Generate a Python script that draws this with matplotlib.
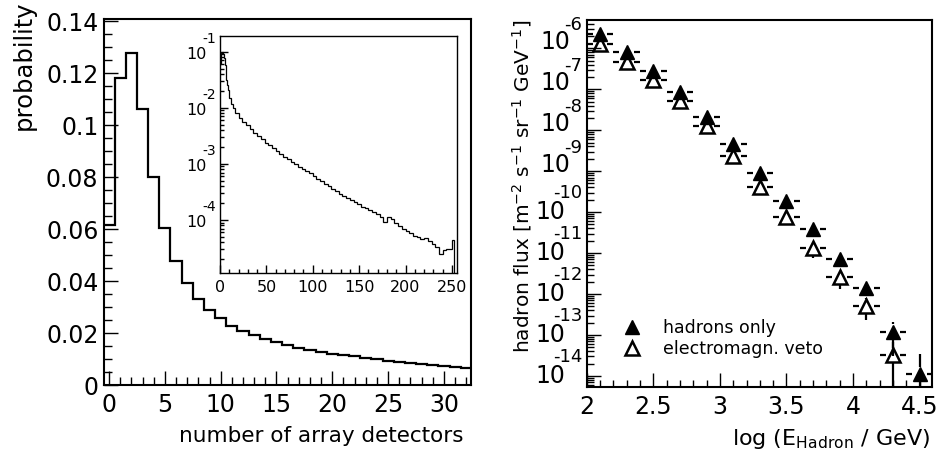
import numpy as np
import matplotlib
matplotlib.use("Agg")
import matplotlib.pyplot as plt
import matplotlib.transforms as mtransforms
from matplotlib.ticker import MultipleLocator, LogLocator, NullFormatter, FuncFormatter

plt.rcParams['font.family'] = ['DejaVu Sans']
plt.rcParams['mathtext.default'] = 'regular'

# left: probability vs number of array detectors (bins centred on integers)
n_det = np.arange(0, 33)
prob = [0.0615, 0.118, 0.1277, 0.106, 0.080, 0.0605, 0.0476, 0.0394, 0.0332,
        0.029, 0.0258, 0.0228, 0.0209, 0.0191, 0.0177, 0.0164, 0.0152, 0.0143,
        0.0135, 0.0128, 0.0121, 0.0115, 0.0110, 0.0105, 0.0099, 0.0094, 0.0090,
        0.0085, 0.0081, 0.0077, 0.0074, 0.0071, 0.0067]

# inset: full range, log10 of probability
inset_edges = np.r_[np.arange(0, 10), np.arange(10, 16, 2), np.arange(16, 248, 4),
                    [248, 250, 252, 256]]
inset_log10p = [-1.22, -1.02, -1.00, -1.05, -1.12, -1.24, -1.38, -1.50, -1.60, -1.68,
                -1.82, -1.93, -2.01,
                -2.10, -2.18, -2.25, -2.31, -2.38, -2.45, -2.51, -2.56, -2.62, -2.67,
                -2.72, -2.77, -2.83, -2.88, -2.92, -2.97, -3.01, -3.05, -3.09, -3.12,
                -3.17, -3.22, -3.27, -3.31, -3.36, -3.40, -3.45, -3.48, -3.53, -3.57,
                -3.60, -3.65, -3.68, -3.72, -3.76, -3.79, -3.83, -3.86, -3.90, -3.95,
                -4.03, -3.95, -3.99, -4.06, -4.10, -4.16, -4.20, -4.24, -4.29, -4.30,
                -4.34, -4.33, -4.38, -4.42, -4.48, -4.60, -4.53, -4.51,
                -4.52, -4.36, -np.inf]

# right: hadron flux
log_e_had = [2.1, 2.3, 2.5, 2.7, 2.9, 3.1, 3.3, 3.5, 3.7, 3.9, 4.1, 4.3, 4.5]
flux_had = [2.2e-6, 7.9e-7, 2.8e-7, 8.7e-8, 2.1e-8, 4.6e-9, 9.1e-10, 1.9e-10,
            3.8e-11, 7.1e-12, 1.4e-12, 1.2e-13, 1.1e-14]
err_had = [1e-7, 4e-8, 1.5e-8, 5e-9, 1.5e-9, 4e-10, 9e-11, 2.5e-11, 6e-12,
           1.4e-12, 3.5e-13, 0.9e-13, 2.4e-14]
log_e_veto = [2.1, 2.3, 2.5, 2.7, 2.9, 3.1, 3.3, 3.5, 3.7, 3.9, 4.1, 4.3]
flux_veto = [1.3e-6, 4.7e-7, 1.7e-7, 5.2e-8, 1.3e-8, 2.4e-9, 4.2e-10, 7.4e-11,
             1.3e-11, 2.6e-12, 5.1e-13, 3.2e-14]
err_veto = [1e-7, 4e-8, 1.5e-8, 5e-9, 1.5e-9, 3e-10, 7e-11, 1.6e-11, 5.6e-12,
            1.3e-12, 2.8e-13, 3.5e-14]
bin_half = 0.1

fig = plt.figure(figsize=(9.39, 4.53), dpi=100)
fmt = FuncFormatter(lambda v, p: '%g' % v)


def px(dx, dy):
    return mtransforms.ScaledTranslation(dx / 100, dy / 100, fig.dpi_scale_trans)


def root_style(ax, lw, major, minor):
    for s in ax.spines.values():
        s.set_linewidth(lw)
    ax.tick_params(which='both', direction='in', top=False, right=False, width=1)
    ax.tick_params(which='major', length=major)
    ax.tick_params(which='minor', length=minor)


# ---- left panel ----
ax1 = fig.add_axes([0.1108, 0.1501, 0.3905, 0.808])
edges = np.append(n_det - 0.5, n_det[-1] + 0.5)
ax1.stairs(prob, edges, color='black', lw=1.6)
ax1.set_xlim(-0.45, 32.4)
ax1.set_ylim(0, 0.1408)
ax1.xaxis.set_major_locator(MultipleLocator(5))
ax1.xaxis.set_minor_locator(MultipleLocator(1))
ax1.yaxis.set_major_locator(MultipleLocator(0.02))
ax1.yaxis.set_minor_locator(MultipleLocator(0.005))
ax1.xaxis.set_major_formatter(fmt)
ax1.yaxis.set_major_formatter(fmt)
root_style(ax1, 1.5, 10, 5.5)
ax1.tick_params(axis='both', labelsize=17)
ax1.tick_params(axis='x', pad=6)
ax1.tick_params(axis='y', pad=4)
ax1.text(0.979, -0.112, 'number of array detectors', transform=ax1.transAxes,
         ha='right', va='top', fontsize=15.5)
ax1.text(-0.218, 1.052, 'probability', transform=ax1.transAxes, rotation=90,
         ha='center', va='top', fontsize=17.5)

# ---- inset ----
ax2 = fig.add_axes([0.2338, 0.3974, 0.2529, 0.5232])
p = 10.0 ** np.array(inset_log10p)
p = np.where(p > 0, p, 1e-9)
ax2.stairs(p, inset_edges, baseline=None, color='black', lw=0.9)
ax2.set_yscale('log')
ax2.set_xlim(-0.5, 255.5)
ax2.set_ylim(10 ** -4.945, 10 ** -0.72)
ax2.xaxis.set_major_locator(MultipleLocator(50))
ax2.xaxis.set_minor_locator(MultipleLocator(10))
ax2.xaxis.set_major_formatter(fmt)
ax2.yaxis.set_major_locator(LogLocator(base=10, numticks=20))
ax2.yaxis.set_minor_locator(LogLocator(base=10, subs=np.arange(2, 10), numticks=100))
ax2.yaxis.set_major_formatter(NullFormatter())
ax2.yaxis.set_minor_formatter(NullFormatter())
root_style(ax2, 1.0, 6, 3)
ax2.tick_params(axis='x', labelsize=11.5, pad=5)
blend2 = mtransforms.blended_transform_factory(ax2.transAxes, ax2.transData)
for k in range(-4, 0):
    ax2.text(0, 10.0 ** k, '10', transform=blend2 + px(-12.5, -3),
             ha='right', va='center', fontsize=11.5)
    ax2.text(0, 10.0 ** k, str(k), transform=blend2 + px(-3.5, 13),
             ha='right', va='center', fontsize=10)

# ---- right panel ----
ax3 = fig.add_axes([0.6248, 0.1464, 0.3674, 0.8095])
ax3.set_yscale('log')
gap_x = 0.055
gap_dec = 0.18
for xs, ys, es in [(log_e_had, flux_had, err_had), (log_e_veto, flux_veto, err_veto)]:
    x = np.array(xs)
    y = np.array(ys)
    e = np.array(es)
    ax3.hlines(y, x - bin_half, x - gap_x, color='black', lw=1.6)
    ax3.hlines(y, x + gap_x, x + bin_half, color='black', lw=1.6)
    lo = np.clip(y - e, 1e-17, None)
    glo = y / 10 ** gap_dec
    ghi = y * 10 ** gap_dec
    m = lo < glo
    ax3.vlines(x[m], lo[m], glo[m], color='black', lw=1.6)
    m = (y + e) > ghi
    ax3.vlines(x[m], ghi[m], (y + e)[m], color='black', lw=1.6)
h1, = ax3.plot(log_e_had, flux_had, ls='none', marker='^', ms=9.5, color='black')
h2, = ax3.plot(log_e_veto, flux_veto, ls='none', marker='^', ms=10.5,
               mfc='none', mec='black', mew=1.8)
ax3.set_xlim(2, 4.59)
ax3.set_ylim(10 ** -14.26, 10 ** -5.31)
ax3.xaxis.set_major_locator(MultipleLocator(0.5))
ax3.xaxis.set_minor_locator(MultipleLocator(0.1))
ax3.xaxis.set_major_formatter(fmt)
ax3.yaxis.set_major_locator(LogLocator(base=10, numticks=20))
ax3.yaxis.set_minor_locator(LogLocator(base=10, subs=np.arange(2, 10), numticks=100))
ax3.yaxis.set_major_formatter(NullFormatter())
ax3.yaxis.set_minor_formatter(NullFormatter())
root_style(ax3, 1.5, 10, 5)
ax3.tick_params(axis='x', labelsize=17, pad=6)
blend3 = mtransforms.blended_transform_factory(ax3.transAxes, ax3.transData)
for k in range(-14, -5):
    two = len(str(k)) > 2
    dy10 = 0.5 if two else 6.5
    dyexp = 18.5 if two else 17
    ax3.text(0, 10.0 ** k, '10', transform=blend3 + px(-21.7 if two else -16, dy10),
             ha='right', va='center', fontsize=17)
    ax3.text(0, 10.0 ** k, str(k), transform=blend3 + px(-4.5, dy10 + dyexp),
             ha='right', va='center', fontsize=13)
ax3.legend([h1, h2], ['hadrons only', 'electromagn. veto'], loc='lower left',
           bbox_to_anchor=(0.105, 0.077), frameon=False, fontsize=12.5,
           handlelength=1.0, handletextpad=1.3, labelspacing=0.17,
           borderpad=0, borderaxespad=0)
ax3.text(0.995, -0.11, 'log (E$_{Hadron}$ / GeV)', transform=ax3.transAxes,
         ha='right', va='top', fontsize=16)
ax3.text(-0.188, 1.0, 'hadron flux [m$^{-2}$ s$^{-1}$ sr$^{-1}$ GeV$^{-1}$]',
         transform=ax3.transAxes, rotation=90, ha='center', va='top', fontsize=14.5)

fig.savefig('out.png', dpi=100)
